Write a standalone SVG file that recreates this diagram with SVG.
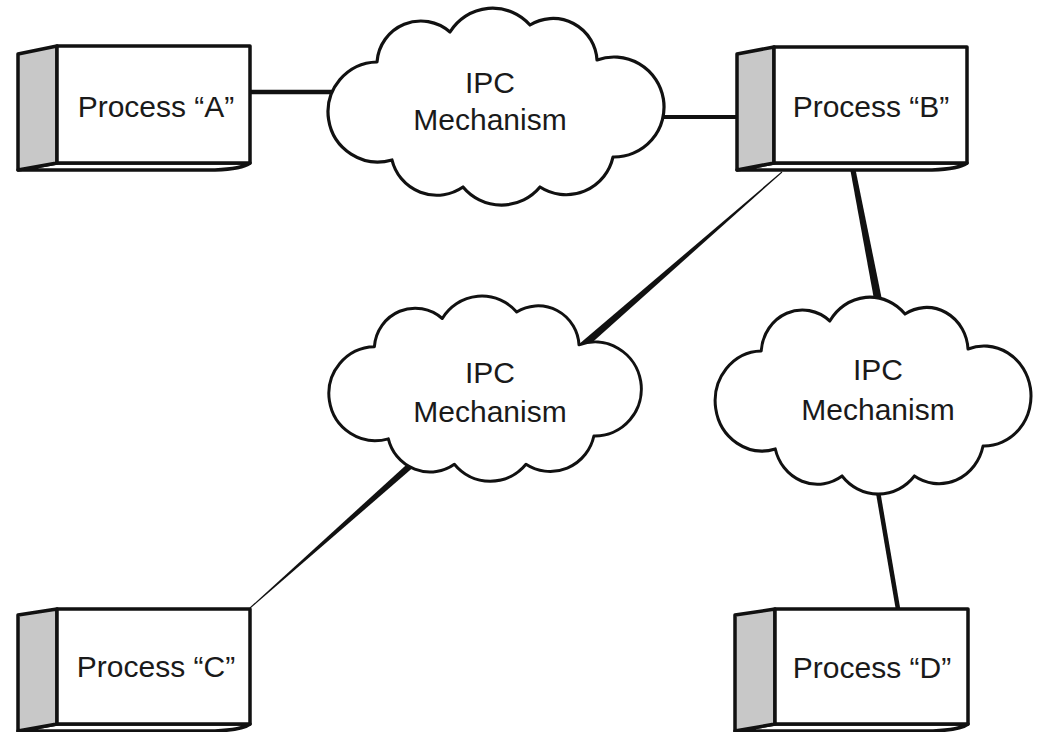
<svg xmlns="http://www.w3.org/2000/svg" width="1038" height="732" viewBox="0 0 1038 732">
<style>
.side{fill:#c8c8c8;stroke:#111;stroke-width:3.5;stroke-linejoin:round}
.face{fill:#fff;stroke:#111;stroke-width:3.5;stroke-linejoin:round}
.cloud{fill:#fff;stroke:#111;stroke-width:3.2;stroke-linejoin:round}
.lbl{font-family:"Liberation Sans",Arial,sans-serif;font-size:30px;fill:#1a1a1a;text-anchor:middle}
.wire{stroke:#111;fill:none;stroke-linecap:butt}
.wedge{fill:#111;stroke:none}
</style>
<defs>
<path id="cloudShape" d="M -120,-45 A 44 44 0 0 1 -47,-75 A 50 50 0 0 1 33,-82 A 44 44 0 0 1 100,-47 A 50 50 0 1 1 116,50 A 48 48 0 0 1 43,80 A 50 50 0 0 1 -34,80 A 46 46 0 0 1 -105,53 A 50 50 0 1 1 -120,-45 Z"/>
</defs>
<rect width="1038" height="732" fill="#fff"/>
<g id="connectors">
<line class="wire" x1="248" y1="92" x2="345" y2="92" stroke-width="4.5"/>
<line class="wire" x1="650" y1="117" x2="740" y2="117" stroke-width="4"/>
<polygon class="wedge" points="781.7,171.6 567.4,354 572.6,360 782.3,172.4"/>
<polygon class="wedge" points="849.5,165.5 876.1,310.8 883.9,309.2 854.5,164.5"/>
<polygon class="wedge" points="249.7,607.6 417.7,454.4 422.3,459.6 250.3,608.4"/>
<line class="wire" x1="876" y1="480" x2="898" y2="609" stroke-width="4.5"/>
</g>
<g id="cloud1">
<use href="#cloudShape" class="cloud" transform="translate(497,107)"/>
<text class="lbl" x="490" y="93">IPC</text>
<text class="lbl" x="490" y="130">Mechanism</text>
</g>
<g id="cloud2">
<use href="#cloudShape" class="cloud" transform="translate(486,389) scale(0.93,0.94)"/>
<text class="lbl" x="490" y="383">IPC</text>
<text class="lbl" x="490" y="422">Mechanism</text>
</g>
<g id="cloud3">
<use href="#cloudShape" class="cloud" transform="translate(874,396) scale(0.94,1)"/>
<text class="lbl" x="878" y="380">IPC</text>
<text class="lbl" x="878" y="420">Mechanism</text>
</g>
<g id="processA">
<path class="face" d="M18,170 L57,163 L250,163 Q242,169 215,170 Z"/>
<polygon class="side" points="18,54 57,46 57,163 18,170"/>
<rect class="face" x="57" y="46" width="193" height="117"/>
<text class="lbl" x="156" y="117">Process “A”</text>
</g>
<g id="processB">
<path class="face" d="M737,170 L774,163 L967,163 Q959,169 932,170 Z"/>
<polygon class="side" points="737,54 774,47 774,163 737,170"/>
<rect class="face" x="774" y="47" width="193" height="116"/>
<text class="lbl" x="871" y="117">Process “B”</text>
</g>
<g id="processC">
<path class="face" d="M18,731 L57,724 L250,724 Q242,730 215,731 Z"/>
<polygon class="side" points="18,615 57,609 57,724 18,731"/>
<rect class="face" x="57" y="609" width="193" height="115"/>
<text class="lbl" x="156" y="677">Process “C”</text>
</g>
<g id="processD">
<path class="face" d="M735,731 L775,724 L968,724 Q960,730 933,731 Z"/>
<polygon class="side" points="735,615 775,609 775,724 735,731"/>
<rect class="face" x="775" y="609" width="193" height="115"/>
<text class="lbl" x="872" y="678">Process “D”</text>
</g>
</svg>
